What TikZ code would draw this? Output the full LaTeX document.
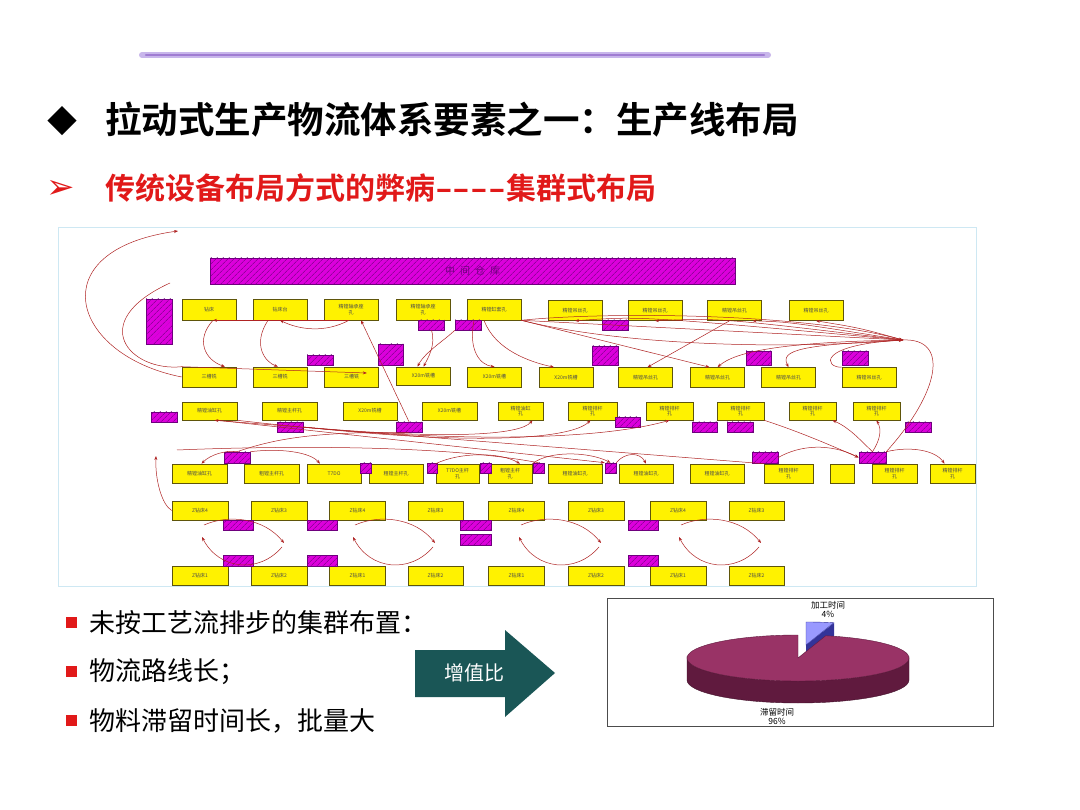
\documentclass[tikz,border=0pt]{standalone}
\usepackage{fontspec}
\usepackage{tikz}
\usetikzlibrary{patterns.meta,arrows.meta}
\newfontfamily\cjk{Noto Sans CJK SC}
\newfontfamily\cjkbold{Noto Sans CJK SC Bold}
\newfontfamily\dejavu{DejaVu Sans}
\definecolor{boxedge}{RGB}{95,85,10}
\definecolor{hatchfill}{RGB}{220,0,220}
\definecolor{hatchline}{RGB}{110,0,125}
\definecolor{flowred}{RGB}{175,35,35}
\definecolor{arrowteal}{RGB}{26,86,86}
\definecolor{piered}{RGB}{153,51,102}
\definecolor{pieside}{RGB}{96,26,62}
\definecolor{pieblue}{RGB}{153,153,255}
\definecolor{piebluedark}{RGB}{51,51,153}
\definecolor{barlilac}{RGB}{200,182,235}
\definecolor{barpurple}{RGB}{160,125,210}
\definecolor{titlered}{RGB}{225,25,25}

\begin{document}
\begin{tikzpicture}[x=1pt, y=-1pt,
    machine/.style={draw=boxedge, fill=yellow, line width=0.6pt, inner sep=0pt,
      minimum width=54pt, minimum height=20pt, align=center, text=black!70,
      font=\cjk\fontsize{5}{5.5}\selectfont},
    buffer/.style={draw=hatchline, line width=0.6pt, inner sep=0pt,
      preaction={fill=hatchfill},
      pattern={Lines[angle=45, distance=4pt, line width=0.5pt]}, pattern color=hatchline},
    flow/.style={draw=flowred, line width=0.5pt, -{Stealth[length=4pt,width=3pt]}},
    flowline/.style={draw=flowred, line width=0.5pt},
    bullet/.style={fill=titlered, minimum size=11pt, inner sep=0pt},
    point/.style={anchor=west, inner sep=0pt, font=\cjk\fontsize{26}{26}\selectfont}]
  \useasboundingbox (0,0) rectangle (1080,810);
  \fill[white] (0,0) rectangle (1080,810);

  \draw[barlilac, line width=6pt, line cap=round] (142,55) -- (768,55);
  \draw[barpurple, line width=2.5pt, line cap=round] (146,55) -- (764,55);

  \node[anchor=west, inner sep=0pt, font=\cjk\fontsize{30}{30}\selectfont] (diamond) at (47,121) {◆};
  \node[anchor=west, inner sep=0pt, font=\cjkbold\fontsize{36.5}{36.5}\selectfont] (title) at (105,120)
    {拉动式生产物流体系要素之一：生产线布局};
  \node[anchor=west, inner sep=0pt, text=titlered, font=\dejavu\bfseries\fontsize{34}{34}\selectfont] (pointer) at (46,189) {➢};
  \node[anchor=west, inner sep=0pt, text=titlered, font=\cjkbold\fontsize{30}{30}\selectfont] (subtitle) at (105,188)
    {传统设备布局方式的弊病\scalebox{1.6}[1]{----}集群式布局};

  \draw[draw=gray!35!cyan!25!white, line width=0.8pt] (58,227) rectangle (976,586);

  \node[buffer, minimum width=525pt, minimum height=26pt, text=hatchline,
    font=\cjk\fontsize{10}{10}\selectfont] (store) at (472.5,271)
    {中\hspace{5pt}间\hspace{5pt}仓\hspace{5pt}库};
  \node[buffer, minimum width=26pt, minimum height=45pt] (tall) at (159,321.5) {};

  \node[machine, minimum height=21pt] (ka) at (209,309.5) {钻床};
  \node[machine, minimum height=21pt] (kb) at (280,309.5) {钻床台};
  \node[machine, minimum height=21pt] (kc) at (351,309.5) {精镗轴承座\\孔};
  \node[machine, minimum height=21pt] (kd) at (423,309.5) {精镗轴承座\\孔};
  \node[machine, minimum height=21pt] (ke) at (494,309.5) {精镗缸套孔};
  \node[machine] (kf) at (575,310.5) {精镗吊丝孔};
  \node[machine] (kg) at (655,310.5) {精镗吊丝孔};
  \node[machine] (kh) at (734.5,310.5) {精镗吊丝孔};
  \node[machine] (ki) at (816,310.5) {精镗吊丝孔};

  \node[machine] (la) at (209,377) {三槽铣};
  \node[machine] (lb) at (280,377) {三槽铣};
  \node[machine] (lc) at (351.5,377) {三槽铣};
  \node[machine, minimum height=18pt] (ld) at (423.5,376) {X20m铣槽};
  \node[machine] (le) at (494.5,377) {X20m铣槽};
  \node[machine] (lf) at (566,377.5) {X20m铣槽};
  \node[machine] (lg) at (645.5,377.5) {精镗吊丝孔};
  \node[machine] (lh) at (717.5,377.5) {精镗吊丝孔};
  \node[machine] (li) at (788.5,377.5) {精镗吊丝孔};
  \node[machine] (lj) at (869,377.5) {精镗吊丝孔};

  \node[machine, minimum height=18pt, minimum width=55pt] (ma) at (209.5,411) {精镗油缸孔};
  \node[machine, minimum height=18pt, minimum width=55pt] (mb) at (289.5,411) {精镗主杆孔};
  \node[machine, minimum height=18pt] (mc) at (370,411) {X20m铣槽};
  \node[machine, minimum height=18pt, minimum width=55pt] (md) at (449.5,411) {X20m铣槽};
  \node[machine, minimum height=18pt, minimum width=45pt] (me) at (520.5,411) {精镗油缸\\孔};
  \node[machine, minimum height=18pt, minimum width=49pt] (mf) at (592.5,411) {精镗排杆\\孔};
  \node[machine, minimum height=18pt, minimum width=47pt] (mg) at (669.5,411) {精镗排杆\\孔};
  \node[machine, minimum height=18pt, minimum width=47pt] (mh) at (740.5,411) {精镗排杆\\孔};
  \node[machine, minimum height=18pt, minimum width=47pt] (mi) at (812.5,411) {精镗排杆\\孔};
  \node[machine, minimum height=18pt, minimum width=47pt] (mj) at (876.5,411) {精镗排杆\\孔};

  \node[machine, minimum height=19pt, minimum width=55pt] (na) at (199.5,473.5) {精镗油缸孔};
  \node[machine, minimum height=19pt, minimum width=55pt] (nb) at (271.5,473.5) {粗镗主杆孔};
  \node[machine, minimum height=19pt] (nc) at (334,473.5) {T7DO};
  \node[machine, minimum height=19pt] (nd) at (396,473.5) {粗镗主杆孔};
  \node[machine, minimum height=19pt, minimum width=43pt] (ne) at (457.5,473.5) {T7DO主杆\\孔};
  \node[machine, minimum height=19pt, minimum width=44pt] (nf) at (510,473.5) {粗镗主杆\\孔};
  \node[machine, minimum height=19pt] (ng) at (575,473.5) {粗镗油缸孔};
  \node[machine, minimum height=19pt] (nh) at (646,473.5) {粗镗油缸孔};
  \node[machine, minimum height=19pt] (ni) at (717,473.5) {粗镗油缸孔};
  \node[machine, minimum height=19pt, minimum width=49pt] (nj) at (788.5,473.5) {粗镗排杆\\孔};
  \node[machine, minimum height=19pt, minimum width=24pt] (nk) at (842,473.5) {};
  \node[machine, minimum height=19pt, minimum width=45pt] (nl) at (894.5,473.5) {粗镗排杆\\孔};
  \node[machine, minimum height=19pt, minimum width=45pt] (nm) at (952.5,473.5) {精镗排杆\\孔};

  \node[machine, minimum height=19pt, minimum width=56pt] (oa) at (200,510.5) {Z钻床4};
  \node[machine, minimum height=19pt, minimum width=56pt] (ob) at (279,510.5) {Z钻床3};
  \node[machine, minimum height=19pt, minimum width=56pt] (oc) at (357.5,510.5) {Z钻床4};
  \node[machine, minimum height=19pt, minimum width=55pt] (od) at (435.5,510.5) {Z钻床3};
  \node[machine, minimum height=19pt, minimum width=56pt] (oe) at (516.5,510.5) {Z钻床4};
  \node[machine, minimum height=19pt, minimum width=56pt] (of) at (596,510.5) {Z钻床3};
  \node[machine, minimum height=19pt, minimum width=56pt] (og) at (678,510.5) {Z钻床4};
  \node[machine, minimum height=19pt, minimum width=55pt] (oh) at (756.5,510.5) {Z钻床3};

  \node[machine, minimum height=19pt, minimum width=56pt] (pa) at (200,575.5) {Z钻床1};
  \node[machine, minimum height=19pt, minimum width=56pt] (pb) at (279,575.5) {Z钻床2};
  \node[machine, minimum height=19pt, minimum width=56pt] (pc) at (357.5,575.5) {Z钻床1};
  \node[machine, minimum height=19pt, minimum width=55pt] (pd) at (435.5,575.5) {Z钻床2};
  \node[machine, minimum height=19pt, minimum width=56pt] (pe) at (516.5,575.5) {Z钻床1};
  \node[machine, minimum height=19pt, minimum width=56pt] (pf) at (596,575.5) {Z钻床2};
  \node[machine, minimum height=19pt, minimum width=56pt] (pg) at (678,575.5) {Z钻床1};
  \node[machine, minimum height=19pt, minimum width=55pt] (ph) at (756.5,575.5) {Z钻床2};

  \node[buffer, minimum width=26pt, minimum height=10pt] (s1) at (431.5,325) {};
  \node[buffer, minimum width=26pt, minimum height=10pt] (s2) at (468,325) {};
  \node[buffer, minimum width=26pt, minimum height=10pt] (s3) at (615,325) {};
  \node[buffer, minimum width=26pt, minimum height=10pt] (s4) at (320,360) {};
  \node[buffer, minimum width=25pt, minimum height=21pt] (s5) at (390.5,354.5) {};
  \node[buffer, minimum width=26pt, minimum height=19pt] (s6) at (605,355.5) {};
  \node[buffer, minimum width=25pt, minimum height=14pt] (s7) at (758.5,358) {};
  \node[buffer, minimum width=26pt, minimum height=14pt] (s8) at (855,358) {};
  \node[buffer, minimum width=26pt, minimum height=10pt] (s9) at (164,417) {};
  \node[buffer, minimum width=26pt, minimum height=10pt] (s10) at (290,427) {};
  \node[buffer, minimum width=26pt, minimum height=10pt] (s11) at (409,427) {};
  \node[buffer, minimum width=25pt, minimum height=10pt] (s12) at (627.5,422) {};
  \node[buffer, minimum width=25pt, minimum height=10pt] (s13) at (704.5,427) {};
  \node[buffer, minimum width=26pt, minimum height=10pt] (s14) at (740,427) {};
  \node[buffer, minimum width=26pt, minimum height=10pt] (s15) at (918,427) {};
  \node[buffer, minimum width=26pt, minimum height=11pt] (s16) at (237,457.5) {};
  \node[buffer, minimum width=26pt, minimum height=11pt] (s17) at (765,457.5) {};
  \node[buffer, minimum width=27pt, minimum height=11pt] (s18) at (872.5,457.5) {};
  \node[buffer, minimum width=11pt, minimum height=10pt] (t1) at (366,468) {};
  \node[buffer, minimum width=10pt, minimum height=10pt] (t2) at (432,468) {};
  \node[buffer, minimum width=11pt, minimum height=10pt] (t3) at (485.5,468) {};
  \node[buffer, minimum width=11pt, minimum height=10pt] (t4) at (538.5,468) {};
  \node[buffer, minimum width=11pt, minimum height=10pt] (t5) at (610.5,468) {};
  \node[buffer, minimum width=30pt, minimum height=10pt] (u1) at (238,525) {};
  \node[buffer, minimum width=30pt, minimum height=10pt] (u2) at (322,525) {};
  \node[buffer, minimum width=31pt, minimum height=10pt] (u3) at (475.5,525) {};
  \node[buffer, minimum width=31pt, minimum height=11pt] (u4) at (475.5,539.5) {};
  \node[buffer, minimum width=30pt, minimum height=10pt] (u5) at (643,525) {};
  \node[buffer, minimum width=30pt, minimum height=11pt] (v1) at (238,560.5) {};
  \node[buffer, minimum width=30pt, minimum height=11pt] (v2) at (322,560.5) {};
  \node[buffer, minimum width=30pt, minimum height=11pt] (v3) at (643,560.5) {};

  \coordinate (topend) at (178,231);
  \coordinate (leftloop) at (170,283);
  \coordinate (hub) at (903,340);
  \coordinate (farleft) at (177,450);
  \coordinate (rise) at (156,456);

  \draw[flow] (la.west) .. controls (70,355) and (40,250) .. (topend);
  \draw[flow] (leftloop) .. controls (85,322) and (130,372) .. (la.north west) -- ([xshift=-12pt,yshift=4pt]lc.east);
  \draw[flow] ([xshift=4pt]ka.south) .. controls (195,340) and (205,360) .. ([xshift=16pt]la.north);
  \draw[flow] ([xshift=-12pt]kb.south) .. controls (252,345) and (265,362) .. ([xshift=-2pt]lb.north);
  \draw[flow] ([xshift=-2pt]kc.south) -- ([xshift=4pt]ka.south);
  \draw[flow] ([xshift=-2pt]kc.south) .. controls (325,333) and (300,330) .. (kb.south);
  \draw[flow] (s11.north) -- ([xshift=10pt]kc.south);
  \draw[flow] (s1.south) .. controls (436,345) and (428,358) .. (ld.north);
  \draw[flow] (s2.south west) .. controls (445,340) and (425,352) .. ([xshift=-6pt]ld.north);
  \draw[flow] ([xshift=-20pt]ke.south) .. controls (468,350) and (480,365) .. (le.north);
  \draw[flow] ([xshift=-10pt]ke.south) .. controls (495,350) and (530,362) .. ([xshift=-12pt]lf.north);

  \draw[flow] (ke.south east) -- (hub);
  \draw[flow] (ke.south east) .. controls (620,345) and (780,350) .. (hub);
  \draw[flow] (ke.south east) .. controls (600,312) and (800,312) .. (hub);
  \draw[flow] (ke.south east) -- ([xshift=-8pt]lh.north);
  \draw[flow] (hub) .. controls (860,328) .. (ki.south);
  \draw[flow] (hub) .. controls (790,322) .. ([xshift=18pt]kh.south);
  \draw[flow] (hub) .. controls (720,318) .. (kg.south);
  \draw[flow] (hub) .. controls (640,316) .. (kf.south);
  \draw[flow] ([xshift=-5pt]kh.south) -- ([xshift=2pt]lg.north);
  \draw[flow] (hub) .. controls (780,342) and (735,352) .. (lh.north);
  \draw[flow] (hub) .. controls (800,345) and (780,350) .. (li.north);
  \draw[flow] (lj.north west) .. controls (825,368) and (815,345) .. (hub);
  \draw[flowline] (hub) .. controls (950,338) and (940,392) .. (s18.north east);

  \draw[flow] (nj.north west) -- ([xshift=5pt]ma.south);
  \draw[flow] ([xshift=8pt]ma.south) -- (t5.north west);
  \draw[flow] (s10.east) .. controls (450,440) and (520,435) .. ([xshift=12pt]me.south);
  \draw[flow] (s10.east) .. controls (470,445) and (570,440) .. ([xshift=-2pt]mf.south);
  \draw[flow] (ma.south east) .. controls (450,445) and (600,440) .. (mg.south);
  \draw[flow] (mh.south east) .. controls (800,432) and (830,445) .. (s18.west);
  \draw[flow] (s18.north) .. controls (860,440) and (850,428) .. ([xshift=20pt]mi.south);
  \draw[flow] (s18.north) .. controls (880,440) and (882,430) .. (mj.south);
  \draw[flow] (s18.north east) .. controls (910,446) and (935,450) .. ([xshift=-8pt]nm.north);
  \draw[flow] (s17.east) .. controls (800,445) and (830,443) .. (s18.west);

  \draw[flowline] (farleft) .. controls (300,445) and (450,446) .. (t4.north);
  \draw[flow] (s16.north) .. controls (225,450) and (210,455) .. ([xshift=2pt]na.north);
  \draw[flow] (s16.north east) .. controls (280,448) and (310,452) .. ([xshift=-14pt]nc.north);
  \draw[flowline] (s16.north) .. controls (280,437) and (320,432) .. (s11.south);
  \draw[flow] (ne.north west) .. controls (460,452) and (500,452) .. ([xshift=10pt]nf.north);
  \draw[flow] (nf.north east) .. controls (550,450) and (590,452) .. (t5.north);
  \draw[flow] (t5.north east) .. controls (625,452) and (640,452) .. (nh.north);
  \draw[flow] (oa.west) .. controls (162,505) and (155,480) .. (rise);

  \foreach \x [count=\i] in {204,355,521,681} {
    \coordinate (arcup\i) at (\x,525);
    \coordinate (arcmid\i) at (\x+80,543);
    \coordinate (arclow\i) at (\x+78,547);
    \coordinate (arcend\i) at (\x-2,537);
    \draw[flow] (arcup\i) .. controls (\x+25,514) and (\x+60,518) .. (arcmid\i);
    \draw[flow] (arclow\i) .. controls (\x+55,574) and (\x+15,570) .. (arcend\i);
  }

  \node[bullet] (b1) at (71,622) {};
  \node[bullet] (b2) at (71,671) {};
  \node[bullet] (b3) at (71,720) {};
  \node[point] (p1) at (89,623) {未按工艺流排步的集群布置：};
  \node[point] (p2) at (89,672) {物流路线长；};
  \node[point] (p3) at (89,721) {物料滞留时间长，批量大};

  \fill[arrowteal] (415,650) -- (505,650) -- (505,630) -- (555,673) -- (505,717) -- (505,697) -- (415,697) -- cycle;
  \node[text=white, font=\cjk\fontsize{20}{20}\selectfont, inner sep=0pt] (ratio) at (474,673) {增值比};

  \draw[black!70, line width=0.7pt] (607,598) rectangle (993,726);
  \fill[piebluedark] (806,645) -- (834,623) -- (834,645) -- (806,667) -- cycle;
  \fill[pieblue, draw=piebluedark, line width=0.4pt] (806,645) -- (806,622)
    arc[start angle=-90, end angle=-75.5, x radius=111, y radius=23] -- cycle;
  \fill[pieside, draw=pieside!70!black, line width=0.4pt] (687,658) -- (687,680)
    arc[start angle=180, end angle=0, x radius=111, y radius=23] -- (909,658)
    arc[start angle=0, end angle=180, x radius=111, y radius=23] -- cycle;
  \fill[piered, draw=pieside, line width=0.4pt] (798,658) -- ++(-75.5:111 and 23)
    arc[start angle=-75.5, end angle=270, x radius=111, y radius=23] -- cycle;
  \node[font=\cjk\fontsize{8.5}{9}\selectfont, align=center, inner sep=0pt] (worklabel) at (828,610) {加工时间\\4\%};
  \node[font=\cjk\fontsize{8.5}{9}\selectfont, align=center, inner sep=0pt] (waitlabel) at (777,716) {滞留时间\\96\%};
\end{tikzpicture}
\end{document}
